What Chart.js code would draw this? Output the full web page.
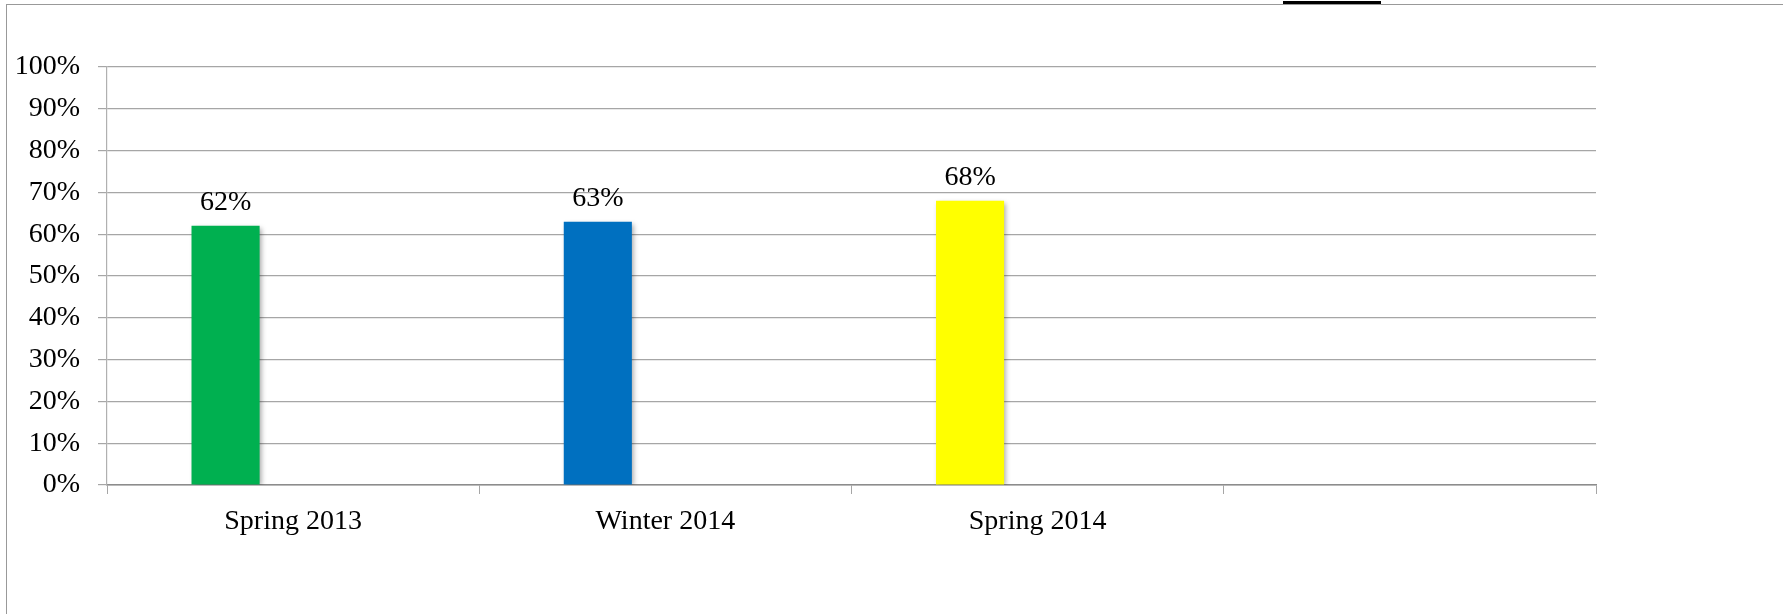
<!DOCTYPE html>
<html>
<head>
<meta charset="utf-8">
<script src="https://cdn.jsdelivr.net/npm/chart.js@4.4.1/dist/chart.umd.min.js"></script>
<style>
  html, body { margin: 0; padding: 0; background: #fff; overflow: hidden; }
  #wrap { position: relative; width: 1783px; height: 614px; }
  #frame {
    position: absolute; left: 6px; top: 4px; right: -2px; bottom: -2px;
    border-left: 1px solid #999; border-top: 1px solid #999;
    pointer-events: none;
  }
  #titleMark { position: absolute; left: 1283px; top: 1px; width: 98px; height: 3px; background: #000; }
</style>
</head>
<body>
<div id="wrap">
  <canvas id="scoreChart"></canvas>
  <div id="frame"></div>
  <div id="titleMark"></div>
</div>
<script>
const categories = ['Spring 2013', 'Winter 2014', 'Spring 2014', ''];
const scores = [62, 63, 68, null];
const secondSeries = [null, null, null, null];  // empty series, keeps bars left of centre like the original
const barColors = ['#00B050', '#0070C0', '#FFFF00', '#FFFF00'];

const FONT = '"Liberation Serif", "Times New Roman", serif';

// bar shadow + value labels above bars
const barDecor = {
  id: 'barDecor',
  beforeDatasetsDraw(chart) {
    const ctx = chart.ctx;
    ctx.save();
    ctx.shadowColor = 'rgba(0,0,0,0.35)';
    ctx.shadowBlur = 5;
    ctx.shadowOffsetX = 2;
    ctx.shadowOffsetY = 2;
  },
  afterDatasetsDraw(chart) {
    const ctx = chart.ctx;
    ctx.restore();

    const meta = chart.getDatasetMeta(0);
    ctx.save();
    ctx.font = '28px ' + FONT;
    ctx.fillStyle = '#000';
    ctx.textAlign = 'center';
    ctx.textBaseline = 'alphabetic';
    meta.data.forEach((bar, i) => {
      if (scores[i] == null) return;
      ctx.fillText(scores[i] + '%', bar.x, bar.y - 16);
    });
    ctx.restore();
  }
};

function createScoreChart() {
  const canvas = document.getElementById('scoreChart');
  canvas.width = 1783;
  canvas.height = 614;

  new Chart(canvas.getContext('2d'), {
    type: 'bar',
    data: {
      labels: categories,
      datasets: [
        {
          label: 'Score',
          data: scores,
          backgroundColor: barColors,
          borderWidth: 0
        },
        {
          label: 'Empty',
          data: secondSeries,
          backgroundColor: '#999999',
          borderWidth: 0
        }
      ]
    },
    options: {
      responsive: false,
      animation: false,
      categoryPercentage: 0.726,
      barPercentage: 0.504,
      layout: {
        padding: { left: 0, top: 67, right: 187, bottom: 0 }
      },
      plugins: {
        legend: { display: false },
        title: { display: false },
        tooltip: { enabled: false }
      },
      scales: {
        x: {
          grid: {
            offset: true,
            drawOnChartArea: false,
            drawTicks: true,
            tickLength: 9,
            color: '#a6a6a6',
            lineWidth: 1
          },
          border: { display: true, color: '#8c8c8c', width: 1.5 },
          ticks: {
            color: '#000',
            font: { family: FONT, size: 28 },
            padding: 11,
            maxRotation: 0,
            autoSkip: false
          },
          afterFit(scale) { scale.height = 129; }
        },
        y: {
          min: 0,
          max: 100,
          grid: {
            color: '#a6a6a6',
            lineWidth: 1.2,
            drawTicks: true,
            tickLength: 9
          },
          border: { display: true, color: '#b0b0b0', width: 1.2 },
          ticks: {
            stepSize: 10,
            color: '#000',
            font: { family: FONT, size: 28 },
            padding: 18,
            callback: v => v + '%'
          },
          afterFit(scale) { scale.width = 107; }
        }
      }
    },
    plugins: [barDecor]
  });
}

createScoreChart();
</script>
</body>
</html>
